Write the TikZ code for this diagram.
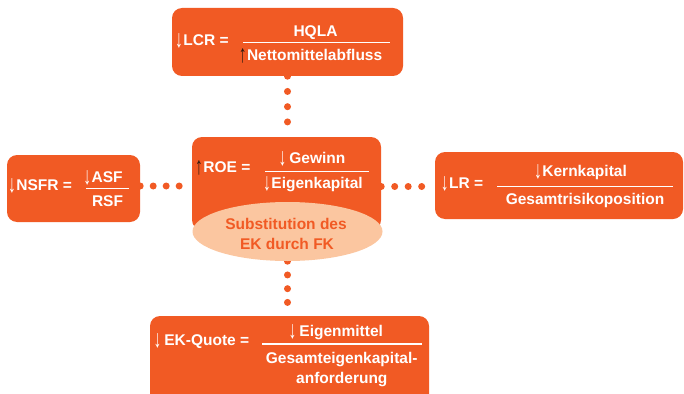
\documentclass[tikz,border=0pt]{standalone}
\usepackage{fontspec}
\setmainfont{Liberation Sans}
\usetikzlibrary{shapes.geometric}
\pgfdeclarelayer{background}
\pgfsetlayers{background,main}

\definecolor{brand}{HTML}{F15A24}
\definecolor{peach}{HTML}{FBC6A0}
\definecolor{darkarrow}{HTML}{2E1A10}

% falling / rising indicators in front of a quantity
\newcommand\dnar{\raisebox{-2pt}{\scalebox{1}[1.6]{\color{white}↓}}\kern0.5pt}
\newcommand\upar{\raisebox{-2pt}{\scalebox{1}[1.6]{\color{darkarrow}↑}}\kern0.5pt}

\tikzset{
  panel/.style={fill=brand, draw=none, rounded corners=10pt, inner sep=0pt},
  lbl/.style={font=\bfseries\fontsize{15.5}{18}\selectfont, text=white, inner sep=0pt,
              text height=11pt, text depth=0pt},
  fracbar/.style={white, line width=1.2pt},
  dotline/.style={brand, line width=7pt, line cap=round},
}

\begin{document}
\begin{tikzpicture}[x=1pt, y=-1pt]
\useasboundingbox (0,0) rectangle (684,393);
\clip (0,0) rectangle (684,393);

% ---- boxes ----
\node[panel, minimum width=231pt, minimum height=68pt] (lcr)  at (287.5,42) {};
\node[panel, minimum width=133pt, minimum height=67pt] (nsfr) at (73.5,188.5) {};
\node[panel, minimum width=189pt, minimum height=93pt] (roe)  at (286.5,183.5) {};
\node[panel, minimum width=248pt, minimum height=67pt] (lr)   at (559,185.5) {};
\node[panel, minimum width=279pt, minimum height=94pt] (ek)   at (289.5,363) {};
\node[ellipse, fill=peach, draw=none, inner sep=0pt,
      minimum width=190pt, minimum height=59pt] (sub) at (287.5,231.5) {};

% ---- dotted connectors ----
\begin{pgfonlayer}{background}
  \draw[dotline, dash pattern=on 0pt off 15.24pt] (lcr.south) -- (lcr.south |- roe.north);
  \draw[dotline, dash pattern=on 0pt off 12.99pt] (nsfr.east |- 0,186) -- (roe.west |- 0,186);
  \draw[dotline, dash pattern=on 0pt off 13.49pt] (roe.east |- 0,186.5) -- (lr.west |- 0,186.5);
  \draw[dotline, dash pattern=on 0pt off 13.74pt] (sub.south) -- (sub.south |- ek.north);
\end{pgfonlayer}

% ---- LCR ----
\node[lbl, anchor=west] (lcrL) at (175,40.5) {\dnar LCR =};
\node[lbl] (lcrN) at (315.5,31.3) {HQLA};
\draw[fracbar] (243,42.7) -- (390,42.7);
\node[lbl] (lcrD) at (310.5,54.7) {\upar Nettomittelabfluss};

% ---- NSFR ----
\node[lbl, anchor=west] (nsfrL) at (8,185) {\dnar NSFR =};
\node[lbl] (nsfrN) at (103,176.7) {\dnar ASF};
\draw[fracbar] (86,188.3) -- (129,188.3);
\node[lbl] (nsfrD) at (107.5,200.7) {RSF};

% ---- ROE ----
\node[lbl, anchor=west] (roeL) at (195,166.7) {\upar ROE =};
\node[lbl] (roeN) at (312,157.5) {\dnar\,Gewinn};
\draw[fracbar] (265,171.7) -- (369,171.7);
\node[lbl] (roeD) at (313,182.5) {\dnar Eigenkapital};
\node[lbl, text=brand] (sub1) at (286,223.5) {Substitution des};
\node[lbl, text=brand] (sub2) at (287,243.5) {EK durch FK};

% ---- LR ----
\node[lbl, anchor=west] (lrL) at (440.7,183) {\dnar LR =};
\node[lbl] (lrN) at (580.5,171.3) {\dnar Kernkapital};
\draw[fracbar] (497,186.7) -- (673,186.7);
\node[lbl] (lrD) at (585,198.7) {Gesamtrisikoposition};

% ---- EK-Quote ----
\node[lbl, anchor=west] (ekL) at (153.3,340.3) {\dnar\,EK-Quote =};
\node[lbl] (ekN) at (335.8,331.3) {\dnar\,Eigenmittel};
\draw[fracbar] (262,344) -- (422,344);
\node[lbl] (ekD1) at (341.7,358) {Gesamteigenkapital-};
\node[lbl] (ekD2) at (341.8,378) {anforderung};
\end{tikzpicture}
\end{document}
